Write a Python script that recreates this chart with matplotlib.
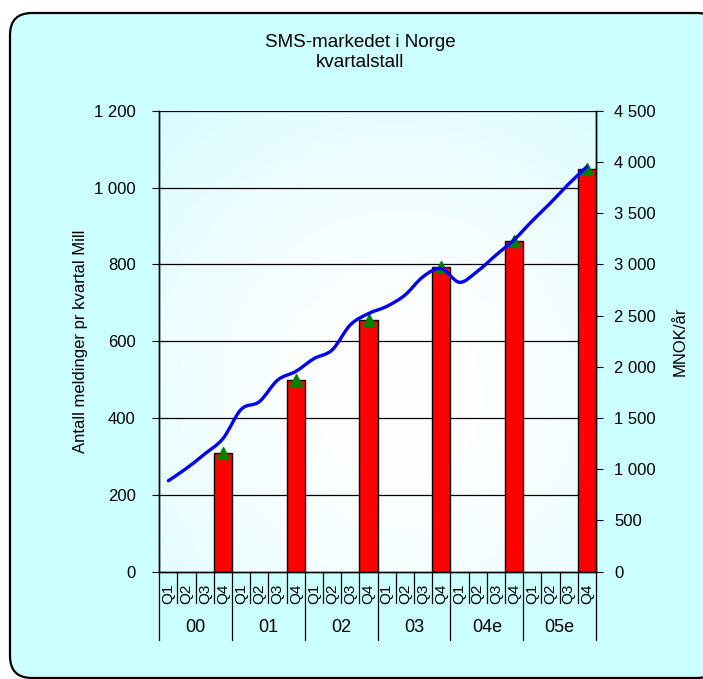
import numpy as np
import matplotlib.pyplot as plt
from matplotlib.patches import FancyBboxPatch, PathPatch
from matplotlib.path import Path
from matplotlib.ticker import FuncFormatter
import matplotlib.transforms as mtransforms

plt.rcParams['font.family'] = ['Liberation Sans', 'DejaVu Sans']

# Data
years = ['00', '01', '02', '03', '04e', '05e']
quarters = ['Q1', 'Q2', 'Q3', 'Q4']
# messages per quarter (Mill), only Q4 shown as bars
messages_q4 = [310, 500, 654, 794, 862, 1047]
# revenue MNOK/år, one value per quarter
revenue = [888, 1010, 1150, 1300, 1585, 1660, 1870, 1955,
           2080, 2165, 2410, 2520, 2590, 2700, 2880, 2960,
           2825, 2935, 3090, 3240, 3425, 3600, 3785, 3953]

n_cat = len(years) * len(quarters)
x = np.arange(n_cat)
bar_x = [i * 4 + 3 for i in range(len(years))]

fig = plt.figure(figsize=(7.03, 6.79), dpi=100)
fig.patch.set_facecolor('white')

# rounded chart-area background
bg = FancyBboxPatch((0.10, 0.01), 7.09, 6.65, boxstyle='round,pad=0,rounding_size=0.22',
                    transform=fig.dpi_scale_trans, facecolor='#CCFFFF',
                    edgecolor='black', linewidth=1.6, zorder=-10)
fig.patches.append(bg)

ax = fig.add_axes([0.2266, 0.158, 0.6212, 0.679])
ax.set_facecolor('none')
ax2 = ax.twinx()

# soft radial gradient in plot area
gx, gy = np.meshgrid(np.linspace(0, 1, 200), np.linspace(0, 1, 200))
r = np.clip(np.sqrt((gx - 0.55) ** 2 + ((gy - 0.38) * 1.0) ** 2) / 0.85, 0, 1)
c0 = np.array([1.0, 1.0, 1.0])
c1 = np.array([0.83, 0.985, 1.0])
img = c0 + (c1 - c0) * r[..., None] ** 1.8
ax.imshow(img, extent=(-0.5, n_cat - 0.5, 0, 1200), origin='lower',
          aspect='auto', zorder=0, interpolation='bilinear')

ax.set_xlim(-0.5, n_cat - 0.5)
ax.set_ylim(0, 1200)
ax.set_yticks(np.arange(0, 1201, 200))
for yv in np.arange(200, 1201, 200):
    ax.axhline(yv, color='black', lw=0.9, zorder=1)

ax.bar(bar_x, messages_q4, width=1.0, color='#FF0000', edgecolor='black',
       linewidth=1.0, zorder=2)
ax.plot(bar_x, messages_q4, linestyle='none', marker='^', color='#008000',
        markersize=8, zorder=3)

# smoothed revenue line (Bezier through quarterly points)
pts = np.column_stack([x, revenue]).astype(float)
verts = [pts[0]]
codes = [Path.MOVETO]
for i in range(len(pts) - 1):
    p0 = pts[max(i - 1, 0)]
    p1 = pts[i]
    p2 = pts[i + 1]
    p3 = pts[min(i + 2, len(pts) - 1)]
    verts += [p1 + (p2 - p0) / 6, p2 - (p3 - p1) / 6, p2]
    codes += [Path.CURVE4] * 3
ax2.add_patch(PathPatch(Path(verts, codes), fill=False, edgecolor='#0000FF',
                        linewidth=2.4, zorder=4, capstyle='round'))
ax2.set_ylim(0, 4500)
ax2.set_yticks(np.arange(0, 4501, 500))

fmt = FuncFormatter(lambda v, p: f'{int(v):,}'.replace(',', ' '))
ax.yaxis.set_major_formatter(fmt)
ax2.yaxis.set_major_formatter(fmt)

ax.tick_params(axis='y', direction='out', length=5, labelsize=12, pad=12)
ax2.tick_params(axis='y', direction='out', length=5, labelsize=12, pad=8)
ax.set_xticks([])

for a in (ax, ax2):
    a.spines['top'].set_visible(False)
    for s in ('left', 'right', 'bottom'):
        a.spines[s].set_color('black')
        a.spines[s].set_linewidth(1.0)

# two-level category axis
trans = mtransforms.blended_transform_factory(ax.transData, ax.transAxes)
for i in range(n_cat):
    ax.text(x[i], -0.048, quarters[i % 4], rotation=90, ha='center', va='center',
            fontsize=11, transform=trans)
for i in range(n_cat + 1):
    bottom = -0.148 if i % 4 == 0 else -0.068
    ax.plot([i - 0.5, i - 0.5], [0, bottom], color='black', lw=0.9,
            transform=trans, clip_on=False)
for k, yr in enumerate(years):
    ax.text(k * 4 + 1.5, -0.122, yr, ha='center', va='center', fontsize=13,
            transform=trans)

ax.set_ylabel('Antall meldinger pr kvartal Mill', fontsize=12, labelpad=4)
ax2.set_ylabel('MNOK/år', fontsize=12, labelpad=12)

fig.text(0.512, 0.937, 'SMS-markedet i Norge', ha='center', va='center', fontsize=13.5)
fig.text(0.512, 0.908, 'kvartalstall', ha='center', va='center', fontsize=13.5)

fig.savefig('out.png', dpi=100)
